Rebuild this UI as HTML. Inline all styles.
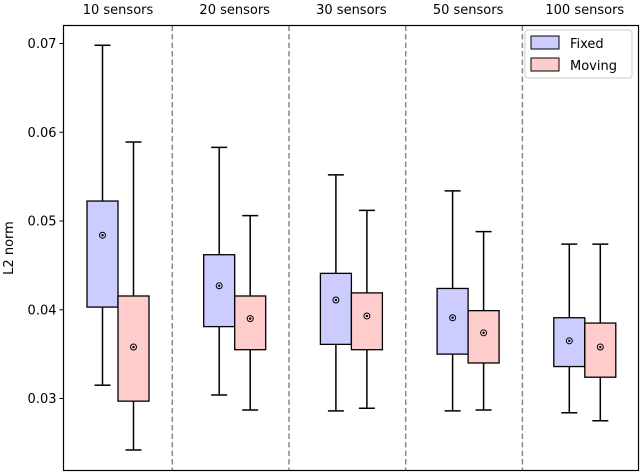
<!DOCTYPE html>
<html><head><meta charset="utf-8"><style>
body{margin:0;background:#fff;}
svg{display:block;font-family:"DejaVu Sans","Liberation Sans",sans-serif;}
</style></head><body>
<svg id="chart" width="640" height="473"></svg>
<script>
const groups=["10 sensors","20 sensors","30 sensors","50 sensors","100 sensors"];
const fixedStats=[[0.0315,0.0403,0.0484,0.05225,0.0698],[0.0304,0.0381,0.0427,0.0462,0.0583],[0.0286,0.0361,0.0411,0.0441,0.0552],[0.0286,0.0350,0.0391,0.0424,0.0534],[0.0284,0.0336,0.0365,0.0391,0.0474]];
const movingStats=[[0.0242,0.0297,0.0358,0.04155,0.0589],[0.0287,0.0355,0.0390,0.04155,0.0506],[0.0289,0.0355,0.0393,0.0419,0.0512],[0.0287,0.0340,0.0374,0.0399,0.0488],[0.0275,0.0324,0.0358,0.0385,0.0474]];
const yTicks=[0.03,0.04,0.05,0.06,0.07];
const ns="http://www.w3.org/2000/svg";
const svg=document.getElementById('chart');
const L=63.5,R=638.5,T=25.5,B=470.5,GW=116.7,X0=118,D0=172.3;
function y(v){return 398.5-(v-0.03)*8875;}
function gx(i){return X0+i*GW;}
function el(t,a,p){const e=document.createElementNS(ns,t);for(const k in a)e.setAttribute(k,a[k]);(p||svg).appendChild(e);return e;}
for(let i=1;i<groups.length;i++){
 const d=el('line',{x1:D0+(i-1)*GW,x2:D0+(i-1)*GW,y1:T,y2:B,stroke:'#888','stroke-width':1.5,'stroke-dasharray':'5.5,3'});
 
 
}
groups.forEach((g,i)=>{
 const t=el('text',{x:gx(i),y:14,'text-anchor':'middle','font-size':13});
 t.textContent=g;
 
 
});
function box(s,cx,fill,name){
 const g=el('g',{});
 
 
 const w=31,c=8;
 el('line',{x1:cx,x2:cx,y1:y(s[4]),y2:y(s[3]),stroke:'#000','stroke-width':1.5},g);
 el('line',{x1:cx,x2:cx,y1:y(s[1]),y2:y(s[0]),stroke:'#000','stroke-width':1.5},g);
 el('line',{x1:cx-c,x2:cx+c,y1:y(s[4]),y2:y(s[4]),stroke:'#000','stroke-width':1.5},g);
 el('line',{x1:cx-c,x2:cx+c,y1:y(s[0]),y2:y(s[0]),stroke:'#000','stroke-width':1.5},g);
 el('rect',{x:cx-w/2,y:y(s[3]),width:w,height:y(s[1])-y(s[3]),fill:fill,stroke:'#000','stroke-width':1.3},g);
 el('circle',{cx:cx,cy:y(s[2]),r:3,fill:'none',stroke:'#000','stroke-width':1},g);
 el('circle',{cx:cx,cy:y(s[2]),r:1.2,fill:'#000'},g);
}
groups.forEach((g,i)=>{
 box(fixedStats[i],gx(i)-15.5,'#ccccff','fixed-box');
 box(movingStats[i],gx(i)+15.5,'#ffcccc','moving-box');
});
const ax=el('rect',{x:L,y:T,width:R-L,height:B-T,fill:'none',stroke:'#000','stroke-width':1.2});


yTicks.forEach(v=>{
 el('line',{x1:L-4,x2:L,y1:y(v),y2:y(v),stroke:'#000','stroke-width':1});
 const t=el('text',{x:L-7,y:y(v)+4.5,'text-anchor':'end','font-size':13});
 t.textContent=v.toFixed(2);
 
 
});
const yt=el('text',{x:13,y:248,'text-anchor':'middle','font-size':13,transform:'rotate(-90 13 248)'});
yt.textContent='L2 norm';


const lg=el('g',{});


el('rect',{x:525,y:30,width:107,height:48,rx:3,fill:'#fff',stroke:'#ccc'},lg);
el('rect',{x:531,y:36,width:28,height:13,fill:'#ccccff',stroke:'#000','stroke-width':1},lg);
el('rect',{x:531,y:58,width:28,height:13,fill:'#ffcccc',stroke:'#000','stroke-width':1},lg);
const l1=el('text',{x:570,y:48,'font-size':13},lg);l1.textContent='Fixed';
const l2=el('text',{x:570,y:70,'font-size':13},lg);l2.textContent='Moving';
</script>
</body></html>
